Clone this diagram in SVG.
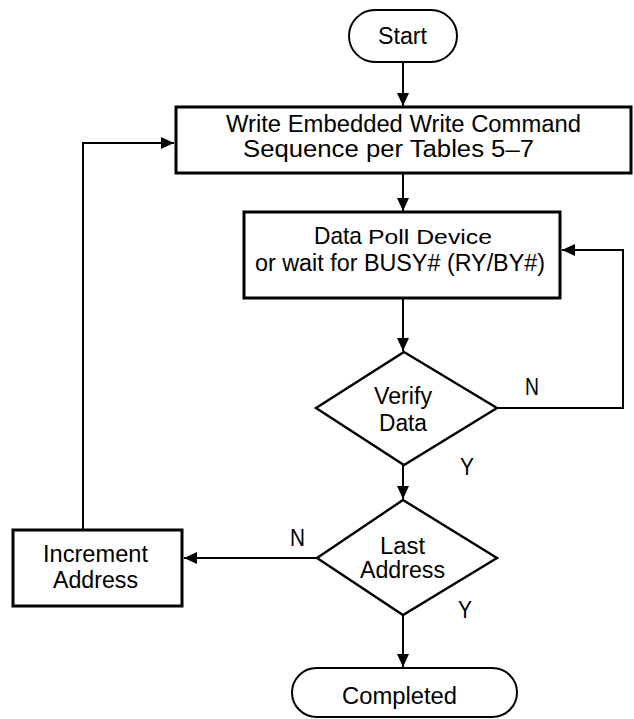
<svg xmlns="http://www.w3.org/2000/svg" width="634" height="719" viewBox="0 0 634 719">
<style>
  .box{fill:#fff;stroke:#000;stroke-width:3}
  .term{fill:#fff;stroke:#000;stroke-width:2}
  .dia{fill:#fff;stroke:#000;stroke-width:2.4}
  .ln{fill:none;stroke:#000;stroke-width:2}
  text{font-family:"Liberation Sans",Arial,sans-serif;font-size:23px;fill:#000}
  .lg{font-size:24px}
  .sm{font-size:21px}
</style>
<defs>
  <marker id="ah" markerUnits="userSpaceOnUse" markerWidth="14" markerHeight="12" refX="13" refY="6" orient="auto">
    <path d="M0,0 L13,6 L0,12 Z" fill="#000"/>
  </marker>
</defs>
<rect width="634" height="719" fill="#fff"/>
<g id="connectors">
  <line class="ln" x1="403" y1="62" x2="403" y2="106" marker-end="url(#ah)"/>
  <line class="ln" x1="403" y1="173" x2="403" y2="211" marker-end="url(#ah)"/>
  <line class="ln" x1="403" y1="298" x2="403" y2="351" marker-end="url(#ah)"/>
  <polyline class="ln" points="497,408 623,408 623,250 562,250" marker-end="url(#ah)"/>
  <line class="ln" x1="403" y1="465" x2="403" y2="499" marker-end="url(#ah)"/>
  <line class="ln" x1="317" y1="558" x2="184" y2="558" marker-end="url(#ah)"/>
  <polyline class="ln" points="83,530 83,143 174,143" marker-end="url(#ah)"/>
  <line class="ln" x1="403" y1="615" x2="403" y2="667" marker-end="url(#ah)"/>
  <text x="525" y="395" textLength="14" lengthAdjust="spacingAndGlyphs">N</text>
  <text x="460" y="475" textLength="14" lengthAdjust="spacingAndGlyphs">Y</text>
  <text x="290" y="546" textLength="15" lengthAdjust="spacingAndGlyphs">N</text>
  <text x="458" y="618" textLength="14" lengthAdjust="spacingAndGlyphs">Y</text>
</g>
<g id="start">
  <rect class="term" x="349" y="10" width="108" height="52" rx="26" ry="26"/>
  <text x="378" y="44" textLength="49" lengthAdjust="spacingAndGlyphs">Start</text>
</g>
<g id="write">
  <rect class="box" x="176" y="107" width="455" height="66"/>
  <text x="226" y="132" textLength="355" lengthAdjust="spacingAndGlyphs">Write Embedded Write Command</text>
  <text x="243" y="157" textLength="291" lengthAdjust="spacingAndGlyphs">Sequence per Tables 5–7</text>
</g>
<g id="poll">
  <rect class="box" x="244" y="212" width="316" height="86"/>
  <text class="lg" x="314" y="244" textLength="48" lengthAdjust="spacingAndGlyphs">Data</text>
  <text class="sm" x="368" y="244" textLength="124" lengthAdjust="spacingAndGlyphs">Poll Device</text>
  <text x="255" y="271" textLength="290" lengthAdjust="spacingAndGlyphs">or wait for BUSY# (RY/BY#)</text>
</g>
<g id="verify">
  <polygon class="dia" points="404,352 497,408 404,465 316,408"/>
  <text x="374" y="404" textLength="58" lengthAdjust="spacingAndGlyphs">Verify</text>
  <text x="379" y="431" textLength="48" lengthAdjust="spacingAndGlyphs">Data</text>
</g>
<g id="last">
  <polygon class="dia" points="403,500 497,558 403,615 317,558"/>
  <text x="380" y="554" textLength="45" lengthAdjust="spacingAndGlyphs">Last</text>
  <text x="360" y="578" textLength="85" lengthAdjust="spacingAndGlyphs">Address</text>
</g>
<g id="increment">
  <rect class="box" x="13" y="530" width="169" height="76"/>
  <text x="43" y="562" textLength="105" lengthAdjust="spacingAndGlyphs">Increment</text>
  <text x="53" y="588" textLength="85" lengthAdjust="spacingAndGlyphs">Address</text>
</g>
<g id="completed">
  <rect class="term" x="292" y="668" width="225" height="49" rx="24.5" ry="24.5"/>
  <text x="342" y="704" textLength="115" lengthAdjust="spacingAndGlyphs">Completed</text>
</g>
</svg>
